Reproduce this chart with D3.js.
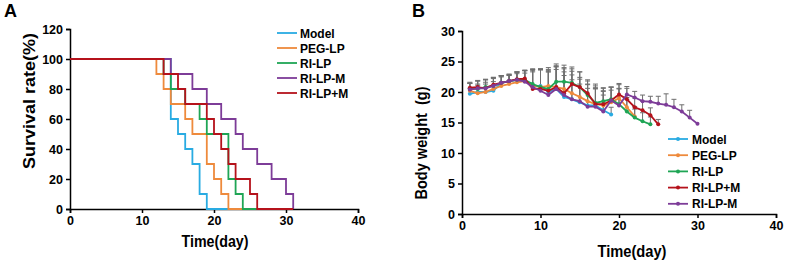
<!DOCTYPE html>
<html lang="en">
<head>
    <meta charset="UTF-8">
    <title>Survival and body weight</title>
    <style>
        body { margin: 0; background: #fff; }
        svg text { font-family: "Liberation Sans", Arial, sans-serif; font-weight: bold; fill: #000; }
        .axis path, .axis line { stroke: #000; stroke-width: 1.5px; }
        .axis text { font-size: 12.5px; }
        .step { fill: none; stroke-width: 1.8px; }
        .wline { fill: none; stroke-width: 1.8px; }
        .err { stroke: #6e6e6e; stroke-width: 1px; }
    </style>
    <script src="https://d3js.org/d3.v7.min.js"></script>
</head>
<body>
    <svg width="785" height="264"></svg>
    <script>
        // ---- Panel A: survival (day of each drop, survival % after drop)
        const survivalSeries = ["Model", "PEG-LP", "RI-LP", "RI-LP-M", "RI-LP+M"];
        const survivalColors = ["#29abe2", "#ee8a3c", "#1fa555", "#7d3c98", "#b5121b"];
        const modelDays   = [0, 14, 15, 16, 17, 18, 19, 22];
        const modelSurv   = [100, 60, 50, 40, 30, 10, 0, 0];
        const pegDays     = [0, 12, 13, 14, 16, 17, 19, 20, 21, 22, 24];
        const pegSurv     = [100, 90, 80, 70, 60, 50, 30, 20, 10, 0, 0];
        const rilpDays    = [0, 13, 14, 16, 18, 19, 22, 23, 24, 26];
        const rilpSurv    = [100, 90, 80, 70, 60, 50, 20, 10, 0, 0];
        const rilpmDays   = [0, 14, 17, 19, 21, 23, 24, 26, 28, 30, 31];
        const rilpmSurv   = [100, 90, 80, 70, 60, 50, 40, 30, 20, 10, 0];
        const rilpPmDays  = [0, 13, 15, 16, 19, 20, 21, 22, 23, 25, 26, 31];
        const rilpPmSurv  = [100, 90, 80, 70, 60, 50, 40, 30, 20, 10, 0, 0];

        // ---- Panel B: body weight (g), mean from day 1, upper SD
        const weightSeries = ["Model", "PEG-LP", "RI-LP", "RI-LP+M", "RI-LP-M"];
        const weightColors = ["#29abe2", "#ee8a3c", "#1fa555", "#b5121b", "#7d3c98"];
        const modelW  = [19.7, 20.0, 20.0, 20.2, 21.5, 21.8, 22.0, 21.8, 21.0, 21.0, 20.0, 20.5, 19.2, 18.8, 18.3, 17.8, 17.8, 17.0, 16.3];
        const modelSd = [0.9, 1.1, 1.3, 1.5, 1.0, 0.9, 1.0, 1.3, 2.3, 2.8, 3.3, 3.2, 3.5, 3.2, 3.0, 2.8, 2.8, 2.5, 1.2];
        const pegW    = [20.2, 19.8, 20.0, 20.5, 21.0, 21.3, 21.6, 21.8, 21.0, 20.8, 21.0, 20.8, 20.5, 19.8, 19.2, 18.5, 18.0, 17.8, 18.3, 19.0, 17.5, 16.0];
        const pegSd   = [1.2, 1.5, 1.6, 1.7, 1.5, 1.4, 1.6, 1.7, 2.5, 2.9, 3.0, 3.3, 3.3, 3.0, 2.9, 2.8, 2.7, 2.3, 2.0, 2.2, 1.6, 1.2];
        const rilpW   = [20.5, 20.5, 20.8, 21.0, 21.5, 21.8, 22.0, 22.0, 21.3, 20.8, 20.5, 21.7, 21.7, 21.5, 20.8, 19.5, 18.2, 18.5, 18.8, 18.0, 16.8, 15.8, 15.2, 14.7];
        const rilpSd  = [1.0, 1.3, 1.2, 1.3, 1.2, 1.1, 1.3, 1.5, 2.4, 2.8, 3.0, 2.9, 2.7, 2.6, 2.5, 2.5, 2.8, 2.2, 2.0, 2.6, 2.0, 1.8, 1.4, 1.2];
        const rilpPmW  = [20.7, 20.8, 20.6, 21.2, 21.5, 21.8, 22.1, 22.2, 20.5, 20.5, 20.2, 20.8, 19.8, 21.3, 20.8, 19.8, 18.0, 18.0, 18.6, 19.6, 18.8, 17.5, 17.0, 16.2, 14.7];
        const rilpPmSd = [0.9, 1.1, 1.5, 1.2, 1.2, 1.1, 1.2, 1.4, 3.2, 3.3, 3.5, 3.4, 3.5, 2.5, 2.5, 2.0, 2.5, 2.6, 2.2, 1.8, 1.8, 1.5, 1.5, 1.2, 0.8];
        const rilpmW  = [20.4, 20.6, 20.6, 21.0, 21.5, 21.8, 22.0, 21.7, 20.8, 20.2, 19.5, 20.5, 19.5, 18.8, 18.5, 17.6, 17.6, 16.8, 18.6, 17.8, 19.6, 19.1, 18.5, 18.4, 18.1, 17.9, 17.5, 16.8, 15.8, 14.8];
        const rilpmSd = [1.0, 1.2, 1.4, 1.4, 1.2, 1.1, 1.3, 1.8, 3.0, 3.5, 3.8, 3.8, 4.5, 4.6, 3.9, 3.6, 3.7, 3.4, 2.2, 2.7, 1.3, 1.0, 1.0, 0.9, 1.2, 1.8, 1.3, 1.1, 1.2, 0];

        const svg = d3.select("svg");

        // ================= Panel A =================
        const xA = d3.scaleLinear().domain([0, 40]).range([70, 358]);
        const yA = d3.scaleLinear().domain([0, 120]).range([209, 29]);

        svg.append("text").attr("x", 4).attr("y", 17).style("font-size", "18px").text("A");

        svg.append("g").attr("class", "axis")
            .attr("transform", `translate(0,${yA(0)})`)
            .call(d3.axisBottom(xA).tickValues([0, 10, 20, 30, 40]).tickSizeOuter(0).tickSize(4).tickPadding(3));
        svg.append("g").attr("class", "axis")
            .attr("transform", `translate(${xA(0)},0)`)
            .call(d3.axisLeft(yA).tickValues(d3.range(0, 121, 20)).tickSizeOuter(0).tickSize(4).tickPadding(3));

        const survData = [
            [modelDays, modelSurv], [pegDays, pegSurv], [rilpDays, rilpSurv],
            [rilpmDays, rilpmSurv], [rilpPmDays, rilpPmSurv]
        ];
        const stepLine = d3.line().curve(d3.curveStepAfter).x(d => xA(d[0])).y(d => yA(d[1]));
        survData.forEach(([days, surv], i) => {
            const pts = days.map((d, j) => [d, surv[j]]);
            svg.append("path").attr("class", "step")
                .attr("stroke", survivalColors[i])
                .attr("d", stepLine(pts));
        });

        svg.append("text")
            .attr("transform", "translate(35,101) rotate(-90)")
            .attr("text-anchor", "middle")
            .attr("textLength", 136).attr("lengthAdjust", "spacingAndGlyphs")
            .style("font-size", "16px")
            .text("Survival rate(%)");
        svg.append("text")
            .attr("x", 215).attr("y", 247)
            .attr("text-anchor", "middle")
            .attr("textLength", 67).attr("lengthAdjust", "spacingAndGlyphs")
            .style("font-size", "16px")
            .text("Time(day)");

        const legA = svg.append("g");
        survivalSeries.forEach((name, i) => {
            const yy = 33 + i * 15;
            legA.append("line").attr("x1", 277).attr("x2", 297).attr("y1", yy).attr("y2", yy)
                .attr("stroke", survivalColors[i]).attr("stroke-width", 1.8);
            legA.append("text").attr("x", 300).attr("y", yy + 4.5)
                .style("font-size", "12px").text(name);
        });

        // ================= Panel B =================
        const xB = d3.scaleLinear().domain([0, 40]).range([462, 776]);
        const yB = d3.scaleLinear().domain([0, 30]).range([214, 31]);

        svg.append("text").attr("x", 412).attr("y", 17).style("font-size", "18px").text("B");

        svg.append("g").attr("class", "axis")
            .attr("transform", `translate(0,${yB(0)})`)
            .call(d3.axisBottom(xB).tickValues([0, 10, 20, 30, 40]).tickSizeOuter(0).tickSize(4).tickPadding(3));
        svg.append("g").attr("class", "axis")
            .attr("transform", `translate(${xB(0)},0)`)
            .call(d3.axisLeft(yB).tickValues(d3.range(0, 31, 5)).tickSizeOuter(0).tickSize(4).tickPadding(3));

        const weightData = [
            [modelW, modelSd], [pegW, pegSd], [rilpW, rilpSd], [rilpPmW, rilpPmSd], [rilpmW, rilpmSd]
        ];

        // error bars (upper only) first
        const errG = svg.append("g");
        weightData.forEach(([w, sd]) => {
            w.forEach((v, j) => {
                if (!sd[j]) return;
                const cx = xB(j + 1), top = yB(v + sd[j]);
                errG.append("line").attr("class", "err")
                    .attr("x1", cx).attr("x2", cx).attr("y1", yB(v)).attr("y2", top);
                errG.append("line").attr("class", "err")
                    .attr("x1", cx - 2.5).attr("x2", cx + 2.5).attr("y1", top).attr("y2", top);
            });
        });

        const wLine = d3.line().x((d, j) => xB(j + 1)).y(d => yB(d));
        weightData.forEach(([w], i) => {
            svg.append("path").attr("class", "wline")
                .attr("stroke", weightColors[i]).attr("d", wLine(w));
            svg.append("g").selectAll("circle").data(w).join("circle")
                .attr("cx", (d, j) => xB(j + 1)).attr("cy", d => yB(d))
                .attr("r", 2).attr("fill", weightColors[i]);
        });

        svg.append("text")
            .attr("transform", "translate(427,143) rotate(-90)")
            .attr("text-anchor", "middle")
            .attr("textLength", 113).attr("lengthAdjust", "spacingAndGlyphs")
            .style("font-size", "16px")
            .text("Body weight\u00a0\u00a0(g)");
        svg.append("text")
            .attr("x", 632).attr("y", 257)
            .attr("text-anchor", "middle")
            .attr("textLength", 69).attr("lengthAdjust", "spacingAndGlyphs")
            .style("font-size", "16px")
            .text("Time(day)");

        const legB = svg.append("g");
        weightSeries.forEach((name, i) => {
            const yy = 139 + i * 16.2;
            legB.append("line").attr("x1", 668).attr("x2", 688).attr("y1", yy).attr("y2", yy)
                .attr("stroke", weightColors[i]).attr("stroke-width", 1.8);
            legB.append("circle").attr("cx", 678).attr("cy", yy).attr("r", 2).attr("fill", weightColors[i]);
            legB.append("text").attr("x", 692).attr("y", yy + 4.5)
                .style("font-size", "12px").text(name);
        });
    </script>
</body>
</html>
